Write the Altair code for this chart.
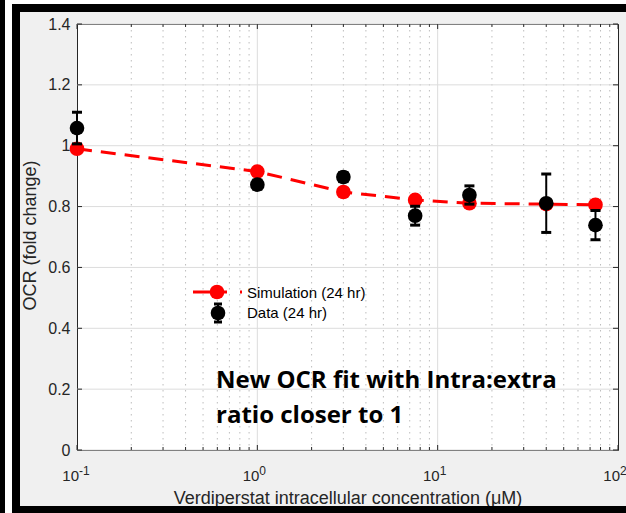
import altair as alt
import pandas as pd

# ---------------- data ----------------
conc = [0.1, 1, 3, 7.5, 15, 40, 75]
sim_ocr = [0.99, 0.915, 0.848, 0.822, 0.811, 0.808, 0.806]
data_ocr = [1.058, 0.872, 0.897, 0.770, 0.838, 0.811, 0.739]
data_err = [0.052, 0.015, 0.015, 0.031, 0.030, 0.096, 0.048]

major_x = [0.1, 1, 10, 100]
major_base = ["10", "10", "10", "10"]
major_exp = ["-1", "0", "1", "2"]
minor_x = [0.2, 0.3, 0.4, 0.5, 0.6, 0.7, 0.8, 0.9,
           2, 3, 4, 5, 6, 7, 8, 9,
           20, 30, 40, 50, 60, 70, 80, 90]
y_ticks = [0, 0.2, 0.4, 0.6, 0.8, 1.0, 1.2, 1.4]

legend_labels = ["Simulation (24 hr)", "Data (24 hr)"]
note_lines = ["New OCR fit with Intra:extra", "ratio closer to 1"]
x_title = "Verdiperstat intracellular concentration (μM)"
y_title = "OCR (fold change)"

W, H = 541, 426
FONT = "Liberation Sans"
TXT = "#262626"

sim_df = pd.DataFrame({"x": conc, "y": sim_ocr})
dat_df = pd.DataFrame({"x": conc, "y": data_ocr, "err": data_err})
dat_df["lo"] = dat_df["y"] - dat_df["err"]
dat_df["hi"] = dat_df["y"] + dat_df["err"]
caps_df = pd.DataFrame({"x": conc + conc,
                        "y": list(dat_df["lo"]) + list(dat_df["hi"])})
major_df = pd.DataFrame({"x": major_x, "base": major_base, "exp": major_exp})
inner_major_df = pd.DataFrame({"x": major_x[1:-1]})
minor_df = pd.DataFrame({"x": minor_x})
ytick_df = pd.DataFrame({"y": y_ticks})
one = pd.DataFrame({"k": [0]})

xscale = alt.Scale(type="log", domain=[0.1, 100], nice=False)
yscale = alt.Scale(domain=[0, 1.4], nice=False, zero=False)

xaxis = alt.Axis(values=major_x, labels=False, ticks=False, tickSize=0, domain=False,
                 grid=False, titleFont=FONT, titleFontSize=18, titleColor=TXT,
                 titleFontWeight="normal", titleY=53, titleBaseline="alphabetic")
yaxis = alt.Axis(values=y_ticks, format="~g", ticks=False, tickSize=0, domain=False,
                 grid=False, labelPadding=7, labelFont=FONT, labelFontSize=16,
                 labelColor=TXT, titleFont=FONT, titleFontSize=18, titleColor=TXT,
                 titleFontWeight="normal", titleX=-42, titleY=211,
                 titleBaseline="alphabetic")


def X(field):
    return alt.X(f"{field}:Q", scale=xscale, axis=xaxis, title=x_title)


def Y(field):
    return alt.Y(f"{field}:Q", scale=yscale, axis=yaxis, title=y_title)


def rect(x, x2, y, y2, color):
    return alt.Chart(one).mark_rect(color=color).encode(
        x=alt.value(x), x2=alt.value(x2), y=alt.value(y), y2=alt.value(y2))


# outer frame (screenshot border)
frame = [
    rect(-77, -72, -24, 489, "black"),
    rect(-72, -65, -24, 489, "white"),
    rect(-65, 549, -24, -20, "white"),
    rect(-65, -57, -20, 489, "black"),
    rect(-65, 549, -20, -12, "black"),
    rect(-65, 549, 482, 489, "black"),
]

minor_grid = alt.Chart(minor_df).mark_rule(color="#bdbdbd", strokeWidth=1,
                                           strokeDash=[1.5, 4.5]).encode(
    x=X("x"), y=alt.value(0), y2=alt.value(H))
major_grid = alt.Chart(inner_major_df).mark_rule(color="#dcdcdc", strokeWidth=1).encode(
    x=X("x"), y=alt.value(0), y2=alt.value(H))
y_grid = alt.Chart(ytick_df).mark_rule(color="#dcdcdc", strokeWidth=1).encode(
    y=Y("y"), x=alt.value(0), x2=alt.value(W))

tick_col = "#262626"
xt_major_b = alt.Chart(major_df).mark_rule(color=tick_col).encode(
    x=X("x"), y=alt.value(H), y2=alt.value(H - 5))
xt_major_t = alt.Chart(major_df).mark_rule(color=tick_col).encode(
    x=X("x"), y=alt.value(0), y2=alt.value(5))
xt_minor_b = alt.Chart(minor_df).mark_rule(color=tick_col).encode(
    x=X("x"), y=alt.value(H), y2=alt.value(H - 3))
xt_minor_t = alt.Chart(minor_df).mark_rule(color=tick_col).encode(
    x=X("x"), y=alt.value(0), y2=alt.value(3))
yt_l = alt.Chart(ytick_df).mark_rule(color=tick_col).encode(
    y=Y("y"), x=alt.value(0), x2=alt.value(5))
yt_r = alt.Chart(ytick_df).mark_rule(color=tick_col).encode(
    y=Y("y"), x=alt.value(W), x2=alt.value(W - 5))

sim_line = alt.Chart(sim_df).mark_line(color="#ff0000", strokeWidth=3,
                                       strokeDash=[15, 9]).encode(x=X("x"), y=Y("y"))
sim_pts = alt.Chart(sim_df).mark_circle(color="#ff0000", size=215, opacity=1).encode(
    x=X("x"), y=Y("y"))
err_rule = alt.Chart(dat_df).mark_rule(color="black", strokeWidth=2).encode(
    x=X("x"), y=Y("lo"), y2="hi:Q")
err_caps = alt.Chart(caps_df).mark_tick(color="black", orient="horizontal",
                                        size=10, thickness=3, opacity=1).encode(
    x=X("x"), y=Y("y"))
dat_pts = alt.Chart(dat_df).mark_circle(color="black", size=215, opacity=1).encode(
    x=X("x"), y=Y("y"))

xlab_base = alt.Chart(major_df).mark_text(font=FONT, fontSize=15, color=TXT,
                                          align="right", baseline="alphabetic", dx=2).encode(
    x=X("x"), y=alt.value(457), text="base:N")
xlab_exp = alt.Chart(major_df).mark_text(font=FONT, fontSize=12, color=TXT,
                                         align="left", baseline="alphabetic", dx=2).encode(
    x=X("x"), y=alt.value(451), text="exp:N")

# legend
leg_line = alt.Chart(one).mark_rule(color="#ff0000", strokeWidth=3,
                                    strokeDash=[17, 14, 3, 13, 2]).encode(
    x=alt.value(116), x2=alt.value(165), y=alt.value(268))
leg_red = alt.Chart(one).mark_circle(color="#ff0000", size=215, opacity=1).encode(
    x=alt.value(140), y=alt.value(268))
leg_bar = alt.Chart(one).mark_rule(color="black", strokeWidth=2).encode(
    x=alt.value(141), y=alt.value(280), y2=alt.value(298))
leg_cap1 = alt.Chart(one).mark_rule(color="black", strokeWidth=3).encode(
    x=alt.value(137), x2=alt.value(145), y=alt.value(280))
leg_cap2 = alt.Chart(one).mark_rule(color="black", strokeWidth=3).encode(
    x=alt.value(137), x2=alt.value(145), y=alt.value(298))
leg_blk = alt.Chart(one).mark_circle(color="black", size=215, opacity=1).encode(
    x=alt.value(141), y=alt.value(289))
leg_t1 = alt.Chart(one).mark_text(font=FONT, fontSize=15, color="black", align="left",
                                  baseline="middle").encode(
    x=alt.value(170), y=alt.value(269), text=alt.value(legend_labels[0]))
leg_t2 = alt.Chart(one).mark_text(font=FONT, fontSize=15, color="black", align="left",
                                  baseline="middle").encode(
    x=alt.value(170), y=alt.value(289), text=alt.value(legend_labels[1]))

note1 = alt.Chart(one).mark_text(font="Open Sans", fontSize=24, fontWeight="bold",
                                 color="black", align="left", baseline="alphabetic").encode(
    x=alt.value(139), y=alt.value(364), text=alt.value(note_lines[0]))
note2 = alt.Chart(one).mark_text(font="Open Sans", fontSize=24, fontWeight="bold",
                                 color="black", align="left", baseline="alphabetic").encode(
    x=alt.value(139), y=alt.value(399), text=alt.value(note_lines[1]))

chart = alt.layer(
    *frame,
    minor_grid, major_grid, y_grid,
    xt_major_b, xt_major_t, xt_minor_b, xt_minor_t, yt_l, yt_r,
    sim_line, sim_pts, err_rule, err_caps, dat_pts,
    xlab_base, xlab_exp,
    leg_line, leg_red, leg_bar, leg_cap1, leg_cap2, leg_blk, leg_t1, leg_t2,
    note1, note2,
).properties(
    width=W, height=H,
    autosize=alt.AutoSizeParams(type="none"),
    padding={"left": 77, "top": 24, "right": 8, "bottom": 63},
    background="#f0f0f0",
).configure_view(
    fill="white", stroke="#262626", strokeWidth=1
)

chart.save("out.html", embed_options={"renderer": "svg", "actions": False})
